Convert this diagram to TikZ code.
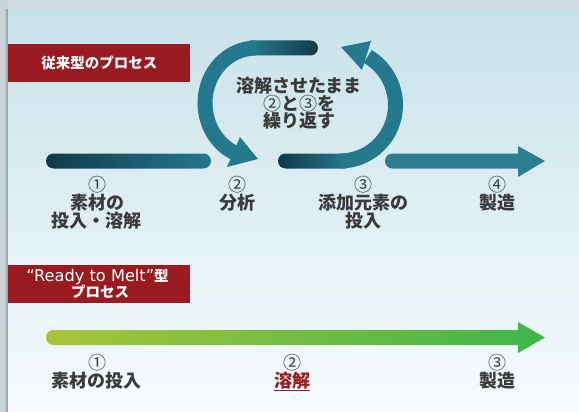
\documentclass[tikz,border=0pt]{standalone}
\usepackage{fontspec}
\setmainfont{Noto Sans CJK JP}
\newfontfamily\latfont{DejaVu Sans}
\newcommand{\cn}[1]{{\mdseries #1}}
\definecolor{outerbg}{HTML}{D3DDE3}
\definecolor{sidebg}{HTML}{C8D2D9}
\definecolor{cardtop}{HTML}{C8E2EA}
\definecolor{cardbot}{HTML}{F7FBFD}
\definecolor{darkT}{HTML}{0F3A4A}
\definecolor{tealT}{HTML}{25798D}
\definecolor{tealR}{HTML}{2E7C90}
\definecolor{redL}{HTML}{9A1B1F}
\definecolor{txt}{HTML}{3A3A3A}
\definecolor{ylg}{HTML}{A9C43B}
\definecolor{grnm}{HTML}{5FBA46}
\definecolor{grn}{HTML}{41B64A}
\begin{document}
\begin{tikzpicture}[x=1pt,y=-1pt,
  lbl/.style={text=txt,font=\fontsize{18}{18}\selectfont\bfseries,align=center,anchor=north,inner sep=0pt},
  looptxt/.style={text=txt,font=\fontsize{18}{17.5}\selectfont\bfseries,align=center,anchor=north,inner sep=0pt},
  tag/.style={text=white,font=\fontsize{14.5}{16}\selectfont\bfseries,align=center,inner sep=0pt},
  tagbox/.style={fill=redL},
  band/.style={line width=15pt,tealT}]
\useasboundingbox (0,0) rectangle (579,412);
% background
\fill[outerbg] (0,0) rectangle (579,412);
\fill[sidebg] (0,0) rectangle (8,412);
\shade[left color=sidebg,right color=black!30!sidebg] (4,10) rectangle (8,412);
\shade[top color=cardtop,bottom color=cardbot] (8,10) rectangle (579,412);
% red tags
\fill[tagbox] (8,44) rectangle (190,82);
\node[tag] (t1) at (99.5,63) {従来型のプロセス};
\fill[tagbox] (8,265) rectangle (190,302.5);
\node[tag] (t2) at (97.5,277) {{\latfont\mdseries\fontsize{16.2}{16}\selectfont “Ready to Melt”}型};
\node[tag] (t2b) at (100,292) {プロセス};
% bar 1
\shade[left color=darkT,right color=tealT,rounded corners=7.5pt] (46,153.5) rectangle (211,168.5);
% left loop: straight top part (dark at right end)
\shade[left color=tealT,right color=darkT] (250,40.5) -- (310.5,40.5) arc[start angle=-90,end angle=90,radius=7.5] -- (250,55.5) -- cycle;
\draw[band] (256,48) arc[start angle=270,end angle=113,x radius=51,y radius=55];
\fill[tealT] (227,167) -- (240,137) -- (258,159) -- cycle;
% right loop: straight bottom part (dark at left end)
\shade[left color=darkT,right color=tealT] (346,153.5) -- (285.5,153.5) arc[start angle=270,end angle=90,radius=7.5] -- (346,168.5) -- cycle;
\draw[band] (340,161) arc[start angle=90,end angle=-60,x radius=55.5,y radius=56];
\fill[tealT] (371,41) -- (341,47) -- (362,70) -- cycle;
% right arrow
\fill[tealR,rounded corners=7.5pt] (385,153.5) rectangle (530,168.5);
\fill[tealR] (518,146) -- (545,161) -- (518,177) -- cycle;
% loop text
\node[looptxt] (lp) at (299,77) {溶解させたまま\\\cn{②}と\cn{③}を\\繰り返す};
% top labels
\node[lbl] (l1) at (97,176) {\cn{①}\\素材の\\投入・溶解};
\node[lbl] (l2) at (237,176) {\cn{②}\\分析};
\node[lbl] (l3) at (363,176) {\cn{③}\\添加元素の\\投入};
\node[lbl] (l4) at (497,176) {\cn{④}\\製造};
% green arrow
\shade[left color=ylg,middle color=grnm,right color=grn,rounded corners=7.5pt] (46,330) rectangle (530,345);
\fill[grn] (518,322) -- (545,337.5) -- (518,353) -- cycle;
% bottom labels
\node[lbl] (b1) at (97,354) {\cn{①}\\素材の投入};
\node[lbl] (b2) at (292,354) {\cn{②}\\\textcolor{redL}{\underline{溶解}}};
\node[lbl] (b3) at (497,354) {\cn{③}\\製造};
\end{tikzpicture}
\end{document}
